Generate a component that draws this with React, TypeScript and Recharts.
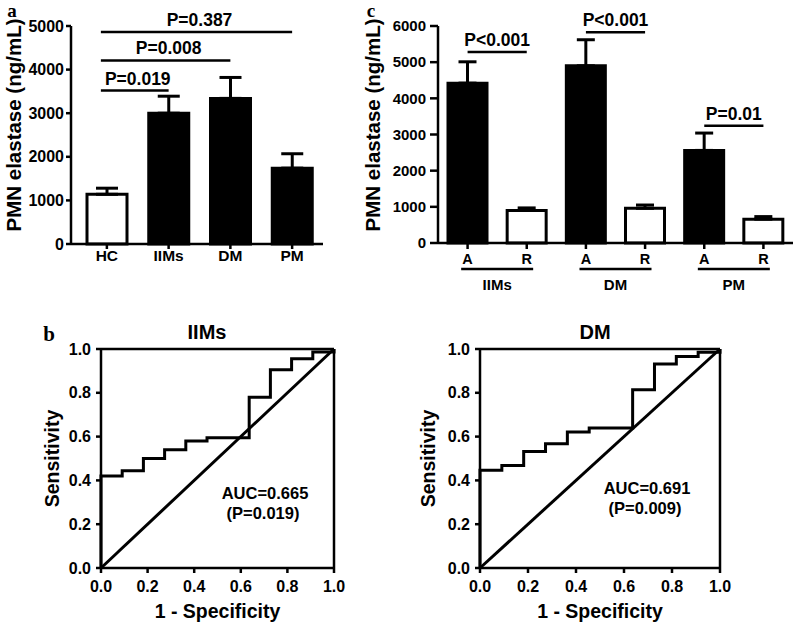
import React from 'react';
import {
  BarChart,
  Bar,
  Cell,
  ErrorBar,
  XAxis,
  YAxis,
  ReferenceLine,
  LineChart,
  Line,
  Label
} from 'recharts';

const sans = '"Liberation Sans", Arial, sans-serif';
const serif = '"Liberation Serif", "Times New Roman", serif';

// panel a: PMN elastase by group
const groupsA = ['HC', 'IIMs', 'DM', 'PM'];
const meanA = [1140, 3000, 3340, 1740];
const semA = [140, 390, 480, 330];
const filledA = [false, true, true, true];
const ticksA = [0, 1000, 2000, 3000, 4000, 5000];
const bracketsA = [
  { from: 'HC', to: 'IIMs', y: 3520, text: 'P=0.019' },
  { from: 'HC', to: 'DM', y: 4210, text: 'P=0.008' },
  { from: 'HC', to: 'PM', y: 4860, text: 'P=0.387' },
];

// panel c: active vs remission
const keysC = ['IIMs-A', 'IIMs-R', 'DM-A', 'DM-R', 'PM-A', 'PM-R'];
const groupC = ['IIMs', 'IIMs', 'DM', 'DM', 'PM', 'PM'];
const meanC = [4420, 900, 4900, 960, 2560, 660];
const semC = [590, 70, 720, 90, 480, 70];
const filledC = [true, false, true, false, true, false];
const ticksC = [0, 1000, 2000, 3000, 4000, 5000, 6000];
const bracketsC = [
  { from: 'IIMs-A', to: 'IIMs-R', y: 5280, text: 'P<0.001' },
  { from: 'DM-A', to: 'DM-R', y: 5830, text: 'P<0.001' },
  { from: 'PM-A', to: 'PM-R', y: 3240, text: 'P=0.01' },
];

// panel b: ROC curves
const rocTicks = [0, 0.2, 0.4, 0.6, 0.8, 1];
const fprIIMs = [0, 0, 0.091, 0.182, 0.273, 0.364, 0.455, 0.636, 0.727, 0.818, 0.909, 1];
const tprIIMs = [0, 0.42, 0.444, 0.5, 0.54, 0.58, 0.595, 0.78, 0.905, 0.956, 0.986, 1];
const fprDM = [0, 0, 0.091, 0.182, 0.273, 0.364, 0.455, 0.636, 0.727, 0.818, 0.909, 1];
const tprDM = [0, 0.446, 0.468, 0.532, 0.567, 0.621, 0.639, 0.814, 0.931, 0.966, 0.985, 1];
const diagX = [0, 1];
const diagY = [0, 1];

const axisStyle = { stroke: '#000', strokeWidth: 2.5 };

const dataA = groupsA.map((g, i) => ({ group: g, mean: meanA[i], err: [0, semA[i]] }));
const dataC = keysC.map((k, i) => ({ key: k, group: groupC[i], mean: meanC[i], err: [0, semC[i]] }));
const toPoints = (xs: number[], ys: number[]) => xs.map((x, i) => ({ x, y: ys[i] }));

const yTitle = (text: string, dx: number, dy: number, size: number) => (props: any) => {
  const vb = props.viewBox || { x: 0, y: 0, width: 0, height: 0 };
  const cx = vb.x + dx;
  const cy = vb.y + vb.height / 2 + dy;
  return (
    <text
      x={cx}
      y={cy}
      transform={`rotate(-90 ${cx} ${cy})`}
      textAnchor="middle"
      dominantBaseline="central"
      fontSize={size}
      fontWeight="bold"
      fill="#000"
    >
      {text}
    </text>
  );
};

// bracket lines in panel a start a little left of the HC bar centre
const bracketShape = (lead: number) => (p: any) => (
  <line x1={p.x1 - lead} y1={p.y1} x2={p.x2} y2={p.y2} stroke="#000" strokeWidth={2.5} />
);

const Note = ({ x, y, size, isSerif, children }: any) => (
  <div
    style={{
      position: 'absolute',
      left: x,
      top: y,
      transform: 'translate(-50%, -50%)',
      fontSize: size,
      lineHeight: 1,
      fontWeight: 'bold',
      fontFamily: isSerif ? serif : sans,
      whiteSpace: 'nowrap',
      color: '#000',
    }}
  >
    {children}
  </div>
);

const GroupTick = (props: any) => {
  const { x, y, payload } = props;
  return (
    <g>
      <line x1={x - 36} x2={x + 36} y1={y + 4} y2={y + 4} stroke="#000" strokeWidth={2.5} />
      <text x={x} y={y + 25} textAnchor="middle" fontSize={15} fontWeight="bold" fill="#000">
        {payload.value}
      </text>
    </g>
  );
};

const RocPanel = ({ fpr, tpr, yAxisWidth, plotWidth, width, titleDx }: any) => (
  <LineChart width={width} height={327} margin={{ top: 49, right: width - yAxisWidth - plotWidth, bottom: 4, left: 0 }}>
    <XAxis
      type="number"
      dataKey="x"
      domain={[0, 1]}
      ticks={rocTicks}
      interval={0}
      tickFormatter={(v: number) => v.toFixed(1)}
      height={55}
      axisLine={axisStyle}
      tickLine={axisStyle}
      tickSize={5}
      tickMargin={8}
      tick={{ fill: '#000', fontSize: 16, fontWeight: 'bold' }}
    >
      <Label value="1 - Specificity" position="insideBottom" offset={5} fill="#000" fontSize={19.5} fontWeight="bold" />
    </XAxis>
    <YAxis
      type="number"
      dataKey="y"
      domain={[0, 1]}
      ticks={rocTicks}
      interval={0}
      tickFormatter={(v: number) => v.toFixed(1)}
      width={yAxisWidth}
      axisLine={axisStyle}
      tickLine={axisStyle}
      tickSize={5}
      tickMargin={5}
      tick={{ fill: '#000', fontSize: 16, fontWeight: 'bold' }}
    >
      <Label content={yTitle('Sensitivity', titleDx, 0, 19.5)} />
    </YAxis>
    <ReferenceLine y={1} stroke="#000" strokeWidth={2.5} />
    <ReferenceLine x={1} stroke="#000" strokeWidth={2.5} />
    <Line
      data={toPoints(diagX, diagY)}
      dataKey="y"
      type="linear"
      stroke="#000"
      strokeWidth={3}
      dot={false}
      isAnimationActive={false}
    />
    <Line
      data={toPoints(fpr, tpr)}
      dataKey="y"
      type="stepAfter"
      stroke="#000"
      strokeWidth={3}
      dot={false}
      isAnimationActive={false}
    />
  </LineChart>
);

export default function App() {
  return (
    <div
      style={{
        position: 'absolute',
        left: 0,
        top: 0,
        width: 797,
        height: 627,
        background: '#fff',
        fontFamily: sans,
        overflow: 'hidden',
      }}
    >
      {/* panel a */}
      <div style={{ position: 'absolute', left: 0, top: 0 }}>
        <BarChart width={330} height={300} data={dataA} margin={{ top: 26, right: 7, bottom: 26, left: 0 }}>
          <XAxis
            dataKey="group"
            height={30}
            padding={{ left: 5, right: 0 }}
            interval={0}
            axisLine={axisStyle}
            tickLine={axisStyle}
            tickSize={5}
            tickMargin={1}
            tick={{ fill: '#000', fontSize: 15.5, fontWeight: 'bold' }}
          />
          <YAxis
            width={71}
            domain={[0, 5000]}
            ticks={ticksA}
            interval={0}
            axisLine={axisStyle}
            tickLine={axisStyle}
            tickSize={5}
            tickMargin={2}
            tick={{ fill: '#000', fontSize: 16, fontWeight: 'bold' }}
          >
            <Label content={yTitle('PMN elastase (ng/mL)', 13, -10, 20.5)} />
          </YAxis>
          {bracketsA.map((b) => (
            <ReferenceLine
              key={b.text}
              segment={[{ x: b.from, y: b.y }, { x: b.to, y: b.y }]}
              stroke="#000"
              strokeWidth={2.5}
              shape={bracketShape(6)}
              label={{ value: b.text, position: 'top', offset: 6, fill: '#000', fontSize: 17.5, fontWeight: 'bold' }}
            />
          ))}
          <Bar dataKey="mean" barSize={40} stroke="#000" strokeWidth={3} isAnimationActive={false}>
            {dataA.map((d, i) => (
              <Cell key={d.group} fill={filledA[i] ? '#000' : '#fff'} />
            ))}
            <ErrorBar dataKey="err" direction="y" width={11} stroke="#000" strokeWidth={3} />
          </Bar>
        </BarChart>
      </div>

      {/* panel c */}
      <div style={{ position: 'absolute', left: 360, top: 0 }}>
        <BarChart width={437} height={300} data={dataC} margin={{ top: 26, right: 4, bottom: 5, left: 0 }}>
          <XAxis
            dataKey="key"
            height={22}
            interval={0}
            tickFormatter={(v: string) => v.split('-')[1]}
            axisLine={axisStyle}
            tickLine={axisStyle}
            tickSize={6}
            tickMargin={5}
            tick={{ fill: '#000', fontSize: 14.5, fontWeight: 'bold' }}
          />
          <XAxis
            xAxisId="grp"
            dataKey="group"
            allowDuplicatedCategory={false}
            height={30}
            interval={0}
            axisLine={false}
            tickLine={false}
            tickSize={0}
            tickMargin={0}
            tick={<GroupTick />}
          />
          <YAxis
            width={78}
            domain={[0, 6000]}
            ticks={ticksC}
            interval={0}
            axisLine={axisStyle}
            tickLine={axisStyle}
            tickSize={8}
            tickMargin={4}
            tick={{ fill: '#000', fontSize: 15, fontWeight: 'bold' }}
          >
            <Label content={yTitle('PMN elastase (ng/mL)', 13, -9.6, 20.5)} />
          </YAxis>
          {bracketsC.map((b) => (
            <ReferenceLine
              key={b.from}
              segment={[{ x: b.from, y: b.y }, { x: b.to, y: b.y }]}
              stroke="#000"
              strokeWidth={2.5}
              label={{ value: b.text, position: 'top', offset: 6, fill: '#000', fontSize: 17.5, fontWeight: 'bold' }}
            />
          ))}
          <Bar dataKey="mean" barSize={39} stroke="#000" strokeWidth={3} isAnimationActive={false}>
            {dataC.map((d, i) => (
              <Cell key={d.key} fill={filledC[i] ? '#000' : '#fff'} />
            ))}
            <ErrorBar dataKey="err" direction="y" width={9} stroke="#000" strokeWidth={3} />
          </Bar>
        </BarChart>
      </div>

      {/* panel b */}
      <div style={{ position: 'absolute', left: 0, top: 300 }}>
        <RocPanel fpr={fprIIMs} tpr={tprIIMs} yAxisWidth={101} plotWidth={233} width={400} titleDx={52} />
      </div>
      <div style={{ position: 'absolute', left: 400, top: 300 }}>
        <RocPanel fpr={fprDM} tpr={tprDM} yAxisWidth={80} plotWidth={240} width={397} titleDx={28} />
      </div>

      <Note x={12} y={10} size={19} isSerif>a</Note>
      <Note x={371} y={10} size={19} isSerif>c</Note>
      <Note x={49} y={334} size={21} isSerif>b</Note>
      <Note x={207} y={332} size={20}>IIMs</Note>
      <Note x={595} y={332} size={20}>DM</Note>
      <Note x={265} y={493} size={16.5}>AUC=0.665</Note>
      <Note x={263} y={513} size={16.5}>(P=0.019)</Note>
      <Note x={647} y={488} size={16.5}>AUC=0.691</Note>
      <Note x={645} y={508} size={16.5}>(P=0.009)</Note>
    </div>
  );
}
